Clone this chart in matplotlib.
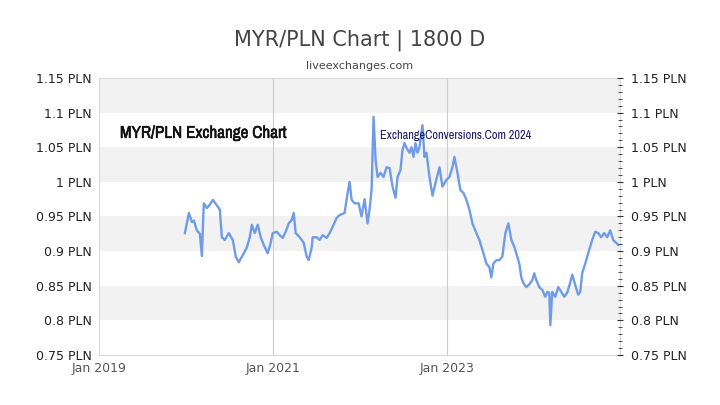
import numpy as np
import matplotlib
matplotlib.use('Agg')
import matplotlib.pyplot as plt
import matplotlib.patheffects as pe
from matplotlib import font_manager
from matplotlib.ticker import MultipleLocator, FixedLocator

# dates as decimal years, rates in PLN per MYR
years = [2019.986, 2019.997, 2020.032, 2020.066, 2020.089, 2020.123, 2020.158, 2020.181, 2020.203, 2020.238,
         2020.272, 2020.307, 2020.341, 2020.387, 2020.410, 2020.444, 2020.490, 2020.536, 2020.570, 2020.605,
         2020.650, 2020.696, 2020.731, 2020.754, 2020.788, 2020.822, 2020.857, 2020.891, 2020.937, 2020.971,
         2020.994, 2021.040, 2021.074, 2021.109, 2021.143, 2021.178, 2021.212, 2021.235, 2021.258, 2021.304,
         2021.350, 2021.384, 2021.407, 2021.441, 2021.453, 2021.499, 2021.533, 2021.567, 2021.613, 2021.648,
         2021.682, 2021.728, 2021.762, 2021.819, 2021.854, 2021.877, 2021.900, 2021.934, 2021.980, 2022.014,
         2022.049, 2022.083, 2022.106, 2022.129, 2022.152, 2022.175, 2022.198, 2022.232, 2022.266, 2022.301,
         2022.335, 2022.370, 2022.404, 2022.427, 2022.461, 2022.484, 2022.507, 2022.530, 2022.564, 2022.587,
         2022.610, 2022.633, 2022.656, 2022.679, 2022.713, 2022.736, 2022.759, 2022.794, 2022.828, 2022.862,
         2022.908, 2022.943, 2022.989, 2023.023, 2023.057, 2023.080, 2023.115, 2023.149, 2023.183, 2023.218,
         2023.252, 2023.287, 2023.332, 2023.367, 2023.413, 2023.447, 2023.481, 2023.504, 2023.527, 2023.562,
         2023.596, 2023.630, 2023.665, 2023.699, 2023.734, 2023.768, 2023.802, 2023.825, 2023.848, 2023.871,
         2023.905, 2023.940, 2023.974, 2023.997, 2024.020, 2024.054, 2024.089, 2024.123, 2024.146, 2024.169,
         2024.181, 2024.203, 2024.238, 2024.272, 2024.307, 2024.341, 2024.375, 2024.410, 2024.433, 2024.467,
         2024.501, 2024.524, 2024.547, 2024.582, 2024.605, 2024.628, 2024.662, 2024.696, 2024.731, 2024.765,
         2024.799, 2024.834, 2024.868, 2024.903, 2024.937, 2024.960]
rates = [0.926, 0.933, 0.955, 0.942, 0.944, 0.930, 0.925, 0.893, 0.969, 0.962,
         0.967, 0.974, 0.968, 0.960, 0.920, 0.916, 0.926, 0.916, 0.892, 0.884,
         0.894, 0.905, 0.920, 0.938, 0.926, 0.938, 0.920, 0.909, 0.897, 0.912,
         0.926, 0.928, 0.923, 0.919, 0.928, 0.940, 0.945, 0.955, 0.926, 0.920,
         0.912, 0.892, 0.887, 0.905, 0.920, 0.920, 0.916, 0.923, 0.919, 0.926,
         0.935, 0.948, 0.952, 0.955, 0.984, 1.000, 0.974, 0.969, 0.969, 0.950,
         0.975, 0.940, 0.960, 0.988, 1.094, 1.032, 1.007, 1.013, 1.007, 1.021,
         1.020, 0.993, 0.977, 1.007, 1.017, 1.046, 1.056, 1.049, 1.042, 1.050,
         1.036, 1.056, 1.042, 1.050, 1.082, 1.036, 1.042, 1.007, 0.980, 0.998,
         1.021, 0.993, 1.003, 1.007, 1.021, 1.036, 1.013, 0.988, 0.984, 0.974,
         0.960, 0.940, 0.926, 0.916, 0.897, 0.882, 0.877, 0.862, 0.882, 0.887,
         0.887, 0.892, 0.926, 0.940, 0.916, 0.906, 0.892, 0.882, 0.862, 0.854,
         0.848, 0.852, 0.858, 0.868, 0.858, 0.848, 0.844, 0.834, 0.841, 0.840,
         0.793, 0.841, 0.834, 0.848, 0.841, 0.834, 0.840, 0.855, 0.866, 0.851,
         0.837, 0.841, 0.868, 0.882, 0.892, 0.902, 0.916, 0.928, 0.926, 0.920,
         0.926, 0.920, 0.930, 0.916, 0.912, 0.909]

y_ticks = [0.75, 0.8, 0.85, 0.9, 0.95, 1.0, 1.05, 1.1, 1.15]
y_labels = ['0.75 PLN', '0.8 PLN', '0.85 PLN', '0.9 PLN', '0.95 PLN', '1 PLN', '1.05 PLN', '1.1 PLN', '1.15 PLN']
x_ticks = [2019, 2021, 2023]
x_labels = ['Jan 2019', 'Jan 2021', 'Jan 2023']

# pick a narrow font if one is installed
names = sorted(set(f.name for f in font_manager.fontManager.ttflist))
narrow = [n for n in names if 'Narrow' in n or 'Condensed' in n]
cond_stretch = 'normal'
if narrow:
    cond_family = [narrow[0], 'DejaVu Sans']
else:
    cond_family = ['DejaVu Sans']
    cond_stretch = 'condensed'
has_narrow = len(narrow) > 0

fig = plt.figure(figsize=(7.2, 4.05), dpi=100)
ax = fig.add_axes([0.1375, 0.1235, 0.7235, 0.6840])

# alternating bands
for k in range(len(y_ticks) - 1):
    if k % 2 == 1:
        ax.axhspan(y_ticks[k], y_ticks[k + 1], color='#f2f2f2', lw=0, zorder=0)

for xv in x_ticks[1:]:
    ax.axvline(xv, color='#cccccc', lw=0.8, zorder=1)

ax.plot(years, rates, color='#6f9be8', lw=1.7, zorder=3)

ax.set_xlim(2019, 2024.98)
ax.set_ylim(0.75, 1.15)
ax.set_yticks(y_ticks)
ax.set_yticklabels(y_labels, fontsize=9, color='#222222')
ax.set_xticks(x_ticks)
ax.set_xticklabels(x_labels, fontsize=9, color='#555555')
ax.tick_params(axis='both', length=0, pad=5)

for s in ax.spines.values():
    s.set_color('#d9d9d9')

ax2 = ax.twinx()
ax2.set_ylim(0.75, 1.15)
ax2.yaxis.set_major_locator(FixedLocator(y_ticks))
ax2.yaxis.set_minor_locator(MultipleLocator(0.01))
ax2.set_yticklabels(y_labels, fontsize=9, color='#222222')
ax2.tick_params(axis='y', which='major', length=4, direction='inout', color='#333333', pad=6)
ax2.tick_params(axis='y', which='minor', length=3, direction='inout', color='#333333')
for s in ax2.spines.values():
    s.set_visible(False)

fig.text(0.5, 0.9, 'MYR/PLN Chart | 1800 D', ha='center', va='center', fontsize=15, color='#444444')
fig.text(0.5, 0.838, 'liveexchanges.com', ha='center', va='center', fontsize=8, color='#444444')

ax.text(2019.24, 1.07, 'MYR/PLN Exchange Chart', fontsize=12.3 if has_narrow else 10.5, fontweight='bold',
        family=cond_family, fontstretch=cond_stretch, color='#111111', va='center', zorder=4,
        path_effects=[pe.withStroke(linewidth=0.4, foreground='#111111')])
ax.text(2022.23, 1.067, 'ExchangeConversions.Com 2024', fontsize=8.9 if has_narrow else 7.5,
        family=cond_family, fontstretch=cond_stretch, color='#1a1a66', va='center', zorder=4)

fig.savefig('out.png', dpi=100)
